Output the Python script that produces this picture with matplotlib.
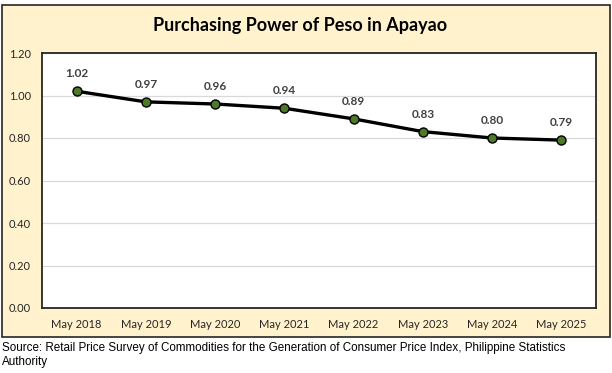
import numpy as np
import matplotlib
matplotlib.use("Agg")
import matplotlib.pyplot as plt
from matplotlib.patches import Rectangle

years = ["May 2018", "May 2019", "May 2020", "May 2021",
         "May 2022", "May 2023", "May 2024", "May 2025"]
ppp = [1.02, 0.97, 0.96, 0.94, 0.89, 0.83, 0.80, 0.79]
yticks = [0.0, 0.2, 0.4, 0.6, 0.8, 1.0, 1.2]

W, H = 612, 373
fig = plt.figure(figsize=(W / 100, H / 100), dpi=100)
fig.patch.set_facecolor("white")

# cream chart box behind the axes
box = Rectangle((2 / W, 1 - 337 / H), 608 / W, 332 / H, transform=fig.transFigure,
                facecolor="#FFF2CC", edgecolor="#262626", lw=1.2, zorder=-5)
fig.add_artist(box)

ax = fig.add_axes([42 / W, 1 - 308 / H, 554 / W, 255 / H], zorder=2)
ax.set_facecolor("white")
x = np.arange(len(years))
ax.plot(x, ppp, color="black", lw=2.4, marker="o", ms=6.5,
        mfc="#4E7A27", mec="black", mew=1.0, zorder=3, clip_on=False)
for xi, v in zip(x, ppp):
    ax.annotate(f"{v:.2f}", (xi, v), xytext=(0, 8.5), textcoords="offset points",
                ha="center", va="bottom", fontsize=8.5, fontweight="bold",
                color="#404040", family="Lato")

ax.set_xlim(-0.5, 7.5)
ax.set_ylim(0, 1.2)
ax.set_yticks(yticks)
ax.set_yticklabels([f"{t:.2f}" for t in yticks])
ax.set_xticks(x)
ax.set_xticklabels(years)
ax.grid(axis="y", color="#D9D9D9", lw=0.9)
ax.set_axisbelow(True)
ax.tick_params(length=0, labelsize=8, colors="#262626", pad=8)
for lab in ax.get_xticklabels() + ax.get_yticklabels():
    lab.set_family("Lato")
for s in ax.spines.values():
    s.set_color("#262626")
    s.set_linewidth(1.3)

fig.text(300 / W, 1 - 25 / H, "Purchasing Power of Peso in Apayao", ha="center",
         va="center", fontsize=13, fontweight="bold", family="Lato", color="black")

fig.text(2 / W, 1 - 348 / H,
         "Source: Retail Price Survey of Commodities for the Generation of Consumer Price Index, Philippine Statistics",
         ha="left", va="center", fontsize=8.4, family="Liberation Sans", color="black")
fig.text(2 / W, 1 - 362 / H, "Authority", ha="left", va="center", fontsize=8.4,
         family="Liberation Sans", color="black")

fig.savefig("out.png", dpi=100)
